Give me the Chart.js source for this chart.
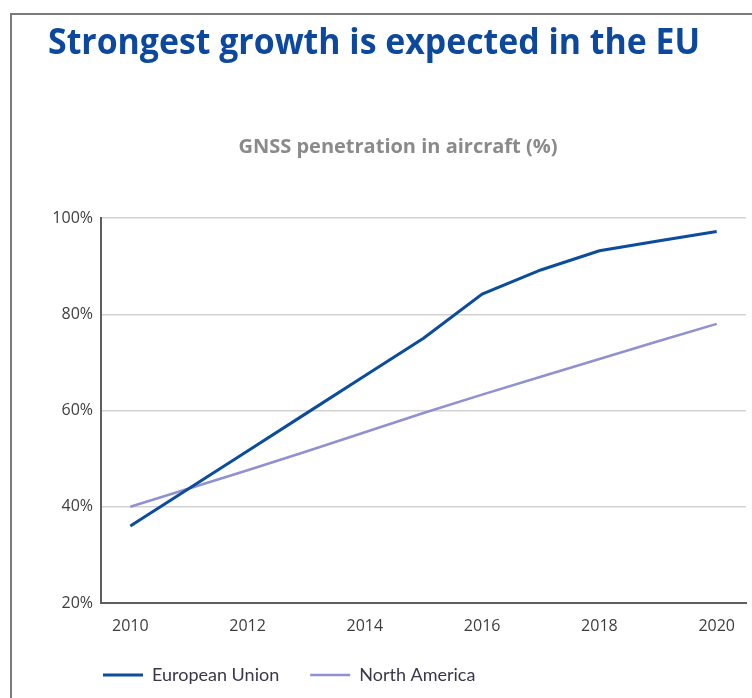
<!DOCTYPE html>
<html>
<head>
<meta charset="utf-8">
<title>GNSS penetration in aircraft</title>
<script src="https://cdn.jsdelivr.net/npm/chart.js@4.4.1/dist/chart.umd.min.js"></script>
<style>
    html, body {
        margin: 0;
        padding: 0;
        width: 752px;
        height: 698px;
        overflow: hidden;
        background: #ffffff;
    }
    #moldura {
        position: absolute;
        left: 10px;
        top: 13px;
        width: 800px;
        height: 760px;
        border-top: 2px solid #7b7b7b;
        border-left: 2px solid #7b7b7b;
    }
    #titulo {
        position: absolute;
        left: 48px;
        top: 21px;
        margin: 0;
        font-family: "Open Sans", sans-serif;
        font-weight: 700;
        font-size: 35px;
        line-height: 40px;
        color: #0b489e;
        white-space: nowrap;
        transform-origin: 0 0;
        z-index: 2;
    }
    #grafico {
        position: absolute;
        left: 0;
        top: 0;
        z-index: 1;
    }
</style>
</head>
<body>
<div id="moldura"></div>
<h1 id="titulo">Strongest growth is expected in the EU</h1>
<canvas id="grafico" width="752" height="694"></canvas>

<script>
// anos e percentuais de penetracao (%)
var anos = [2010, 2011, 2012, 2013, 2014, 2015, 2016, 2017, 2018, 2019, 2020];
var uniaoEuropeia = [36, 43.8, 51.6, 59.4, 67.2, 75, 84.2, 89.2, 93.2, 95.2, 97.2];
var americaNorte = [40, 43.8, 47.6, 51.5, 55.5, 59.5, 63.3, 67, 70.7, 74.4, 78];
var ticksY = [20, 40, 60, 80, 100];

// o titulo usa uma fonte mais estreita, entao comprime na largura certa
var titulo = document.getElementById('titulo');
var larguraTitulo = titulo.getBoundingClientRect().width;
titulo.style.transform = 'scaleX(' + (652 / larguraTitulo) + ')';

// empurra a legenda para alinhar com o inicio do eixo
const recuoLegenda = {
    id: 'recuoLegenda',
    afterLayout: function (chart) {
        if (chart.legend) {
            chart.legend.left += 22;
        }
    }
};

const ctx = document.getElementById('grafico');

const data = {
    labels: anos,
    datasets: [
        {
            label: 'European Union',
            data: uniaoEuropeia,
            borderColor: '#0b4c9c',
            backgroundColor: '#0b4c9c',
            borderWidth: 3,
            pointRadius: 0,
            tension: 0
        },
        {
            label: 'North America',
            data: americaNorte,
            borderColor: '#8f91d0',
            backgroundColor: '#8f91d0',
            borderWidth: 2.6,
            pointRadius: 0,
            tension: 0
        }
    ]
};

const config = {
    type: 'line',
    data: data,
    plugins: [recuoLegenda],
    options: {
        responsive: false,
        animation: false,
        layout: {
            padding: { left: 50, right: 6, top: 0, bottom: 0 }
        },
        plugins: {
            title: {
                display: true,
                text: 'GNSS penetration in aircraft (%)',
                color: '#8a8a8a',
                font: { family: 'Open Sans', size: 20, weight: 'bold' },
                padding: { top: 135, bottom: 59 }
            },
            legend: {
                position: 'bottom',
                align: 'start',
                labels: {
                    usePointStyle: true,
                    pointStyle: 'line',
                    pointStyleWidth: 40,
                    padding: 31,
                    color: '#3b3649',
                    font: { family: 'Lato', size: 18 }
                }
            },
            tooltip: { enabled: false }
        },
        scales: {
            x: {
                type: 'category',
                offset: true,
                grid: { display: false, drawTicks: false },
                border: { color: '#5e5e5e', width: 2 },
                ticks: {
                    autoSkip: false,
                    maxRotation: 0,
                    padding: 14,
                    color: '#3d3d3d',
                    font: { family: 'Open Sans', size: 16 },
                    callback: function (valor, indice) {
                        var ano = anos[indice];
                        return ano % 2 == 0 ? String(ano) : '';
                    }
                },
                afterFit: function (escala) {
                    escala.height = 32;
                }
            },
            y: {
                min: 20,
                max: 100,
                grid: {
                    color: '#d2d2d2',
                    lineWidth: 1.5,
                    drawTicks: false
                },
                border: { color: '#5e5e5e', width: 2 },
                ticks: {
                    padding: 8,
                    color: '#3d3d3d',
                    font: { family: 'Open Sans', size: 16 },
                    callback: function (valor) {
                        return valor + '%';
                    }
                },
                afterBuildTicks: function (escala) {
                    escala.ticks = ticksY.map(function (v) { return { value: v }; });
                },
                afterFit: function (escala) {
                    escala.width = 51;
                }
            }
        }
    }
};

var grafico = new Chart(ctx, config);
</script>
</body>
</html>
